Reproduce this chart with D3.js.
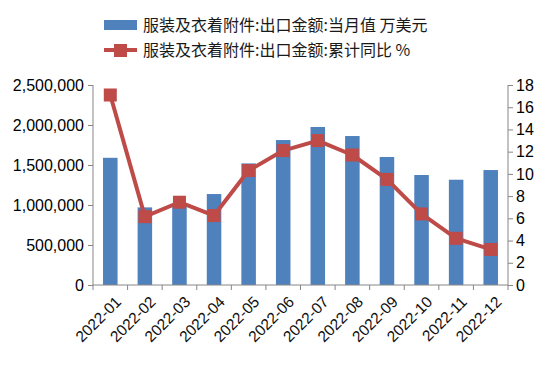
<!DOCTYPE html>
<html>
<head>
<meta charset="utf-8">
<script src="https://cdn.jsdelivr.net/npm/d3@7"></script>
<style>
  body { margin: 0; background: #fff; }
  svg { display: block; }
  .tick text { font-family: "Liberation Sans", Arial, sans-serif; fill: #000; }
</style>
</head>
<body>
<div id="chart"></div>
<script>
// 数据
var months = ['2022-01', '2022-02', '2022-03', '2022-04', '2022-05', '2022-06',
              '2022-07', '2022-08', '2022-09', '2022-10', '2022-11', '2022-12'];
var monthValue = [1590000, 970000, 1000000, 1137000, 1520000, 1812000,
                  1975000, 1862000, 1600000, 1375000, 1316000, 1437000];
var yoyCum = [17.1, 6.15, 7.45, 6.25, 10.3, 12.1, 13.0, 11.7, 9.5, 6.4, 4.2, 3.2];
var leftTicks = [0, 500000, 1000000, 1500000, 2000000, 2500000];
var rightTicks = [0, 2, 4, 6, 8, 10, 12, 14, 16, 18];
var legendNames = ['服装及衣着附件:出口金额:当月值 万美元', '服装及衣着附件:出口金额:累计同比 %'];

var width = 550, height = 366;
var margin = { top: 85, right: 42, bottom: 81, left: 93 };
var w = width - margin.left - margin.right;
var h = height - margin.top - margin.bottom;
var barColor = '#4F81BD', lineColor = '#BE4B48', axisColor = '#868686';

var svg = d3.select('#chart').append('svg')
    .attr('width', width)
    .attr('height', height);

var g = svg.append('g')
    .attr('transform', 'translate(' + margin.left + ',' + margin.top + ')');

var x = d3.scaleBand().domain(months).range([0, w]).paddingInner(0.58).paddingOuter(0.29);
var y = d3.scaleLinear().domain([0, 2500000]).range([h, 0]);
var y2 = d3.scaleLinear().domain([0, 18]).range([h, 0]);

// 左轴
var yAxis = g.append('g')
    .call(d3.axisLeft(y).tickValues(leftTicks).tickSize(5).tickPadding(4).tickFormat(d3.format(',')));
// 右轴
var y2Axis = g.append('g')
    .attr('transform', 'translate(' + w + ',0)')
    .call(d3.axisRight(y2).tickValues(rightTicks).tickSize(5).tickPadding(3));

[yAxis, y2Axis].forEach(function(a) {
    a.selectAll('text').style('font-size', '16px').attr('fill', '#111');
    a.select('.domain').attr('stroke', axisColor).attr('d', 'M0,0V' + h);
    a.selectAll('.tick line').attr('stroke', axisColor);
});

// 柱子
g.selectAll('.bar')
    .data(months)
    .enter().append('rect')
    .attr('class', 'bar')
    .attr('x', function(d) { return x(d); })
    .attr('y', function(d, i) { return y(monthValue[i]); })
    .attr('width', x.bandwidth())
    .attr('height', function(d, i) { return h - y(monthValue[i]); })
    .attr('fill', barColor);

// x 轴
var step = x.step();
var x0 = x(months[0]) - step * x.paddingOuter();
var xAxis = g.append('g')
    .attr('transform', 'translate(0,' + h + ')');
xAxis.append('line')
    .attr('x1', 0).attr('x2', w)
    .attr('stroke', axisColor);
xAxis.selectAll('.xt')
    .data(d3.range(months.length + 1))
    .enter().append('line')
    .attr('x1', function(i) { return x0 + i * step; })
    .attr('x2', function(i) { return x0 + i * step; })
    .attr('y1', 0).attr('y2', 5)
    .attr('stroke', axisColor);
xAxis.selectAll('.xl')
    .data(months)
    .enter().append('text')
    .attr('transform', function(d) {
        return 'translate(' + (x(d) + x.bandwidth() / 2 + 8) + ',14) rotate(-45)';
    })
    .attr('text-anchor', 'end')
    .attr('dy', '0.35em')
    .attr('fill', '#111')
    .style('font-family', '"Liberation Sans", Arial, sans-serif')
    .style('font-size', '15.5px')
    .text(function(d) { return d; });

// 折线
var line = d3.line()
    .x(function(d, i) { return x(months[i]) + x.bandwidth() / 2; })
    .y(function(d) { return y2(d); });

g.append('path')
    .datum(yoyCum)
    .attr('fill', 'none')
    .attr('stroke', lineColor)
    .attr('stroke-width', 4)
    .attr('stroke-linejoin', 'round')
    .attr('d', line);

g.selectAll('.mk')
    .data(yoyCum)
    .enter().append('rect')
    .attr('x', function(d, i) { return x(months[i]) + x.bandwidth() / 2 - 6.5; })
    .attr('y', function(d) { return y2(d) - 6.5; })
    .attr('width', 13)
    .attr('height', 13)
    .attr('fill', lineColor);

// 图例
var legend = svg.append('g').attr('transform', 'translate(104,25)');
legend.append('rect')
    .attr('x', 0).attr('y', -5)
    .attr('width', 33).attr('height', 10)
    .attr('fill', barColor);
legend.append('line')
    .attr('x1', 0).attr('x2', 33).attr('y1', 25).attr('y2', 25)
    .attr('stroke', lineColor).attr('stroke-width', 4);
legend.append('rect')
    .attr('x', 10).attr('y', 19).attr('width', 13).attr('height', 13)
    .attr('fill', lineColor);
legend.selectAll('.lt')
    .data(legendNames)
    .enter().append('text')
    .attr('x', 39)
    .attr('y', function(d, i) { return i * 25; })
    .attr('dy', '0.35em')
    .style('font-family', '"Noto Sans CJK SC", sans-serif')
    .style('font-size', '16px')
    .attr('fill', '#1a1a1a')
    .text(function(d) { return d; });
</script>
</body>
</html>
